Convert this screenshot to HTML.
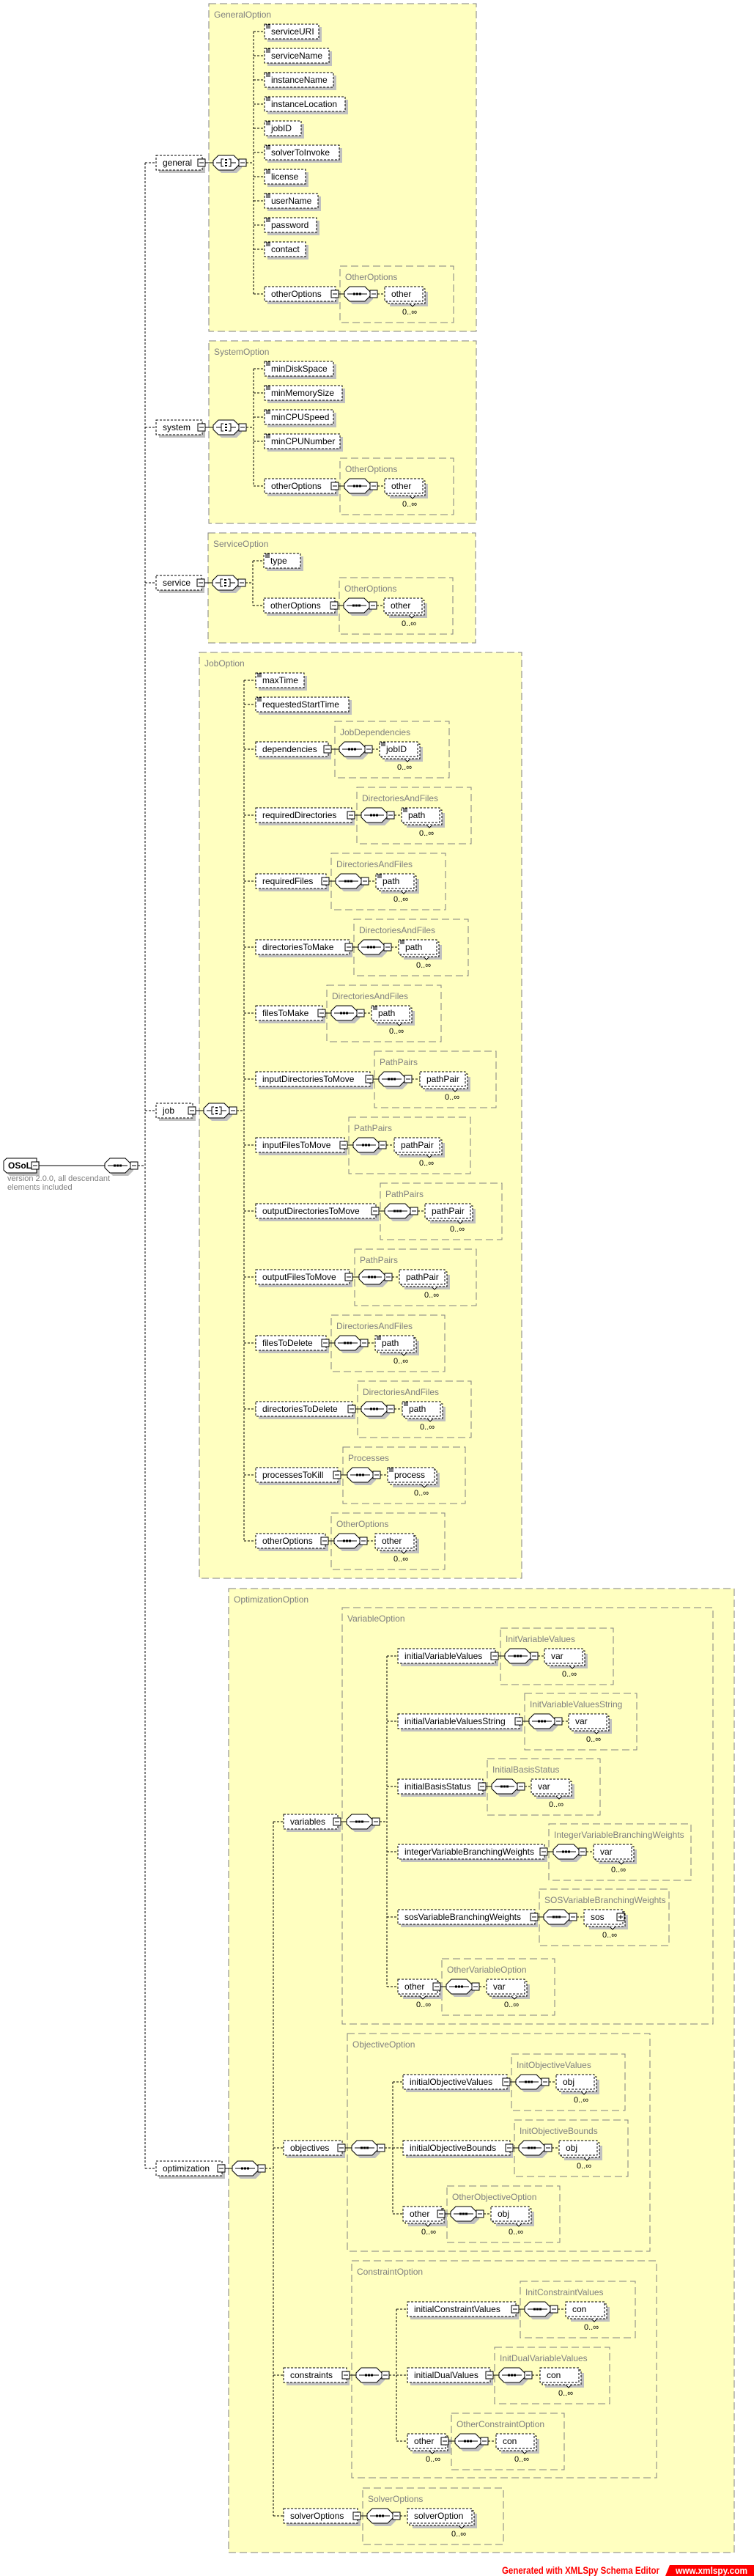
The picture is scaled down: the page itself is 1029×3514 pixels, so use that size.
<!DOCTYPE html>
<html><head><meta charset="utf-8"><style>
html,body{margin:0;padding:0;background:#fff}
svg{display:block}
text{font-family:"Liberation Sans",sans-serif;font-size:12px;fill:#000}
.gl{fill:#808080}
.cd{font-size:11px}
.el{fill:#fff;stroke:#000;stroke-dasharray:3 2}
.sh{fill:#c0c0c0}
.g{fill:none;stroke:#808080;stroke-dasharray:10 5}
.G{fill:#ffffc0;stroke:#808080;stroke-dasharray:10 5}
.dl{fill:none;stroke:#000;stroke-dasharray:3 2}
.ln{stroke:#000;fill:none}
.nt{fill:#fff;stroke:#000}
</style></head><body>
<svg width="1029" height="3514" viewBox="0 0 1029 3514" xmlns="http://www.w3.org/2000/svg">
<defs>
<g id="mb"><rect x="-5" y="-5" width="10" height="10" fill="#fff" stroke="#000"/><path d="M-3 0H3" stroke="#000"/></g>
<g id="pb"><rect x="-5" y="-5" width="10" height="10" fill="#fff" stroke="#000"/><path d="M-3 0H3M0 -3V3" stroke="#000"/></g>
<g id="oct"><polygon fill="#c0c0c0" points="11,-6 32,-6 39,1 39,7 32,14 11,14 4,7 4,1"/><polygon fill="#fff" stroke="#000" points="7,-10 28,-10 35,-3 35,3 28,10 7,10 0,3 0,-3"/></g>
<g id="seq"><use href="#oct"/><path d="M4 0H31" stroke="#000"/><rect x="12" y="-1.5" width="3" height="3"/><rect x="16" y="-1.5" width="3" height="3"/><rect x="20" y="-1.5" width="3" height="3"/><use href="#mb" x="40"/></g>
<g id="all"><use href="#oct"/><path d="M4 0H11M24 0H31M14 -5H11V5H14M21 -5H24V5H21" stroke="#000" fill="none"/><rect x="16" y="-5" width="3" height="2"/><rect x="16" y="-1" width="3" height="2"/><rect x="16" y="3" width="3" height="2"/><use href="#mb" x="40"/></g>
<g id="ic"><path d="M2 -9H8M2 -7H8M2 -5H8" stroke="#000"/></g>
</defs>

<rect class="G" x="285" y="5" width="365" height="447"/><text class="gl" x="292" y="24">GeneralOption</text>
<rect class="G" x="285" y="465" width="365" height="249"/><text class="gl" x="292" y="484">SystemOption</text>
<rect class="G" x="284" y="727" width="365" height="150"/><text class="gl" x="291" y="746">ServiceOption</text>
<rect class="G" x="272" y="890" width="440" height="1263"/><text class="gl" x="279" y="909">JobOption</text>
<rect class="G" x="312" y="2167" width="690" height="1315"/><text class="gl" x="319" y="2186">OptimizationOption</text>
<rect class="g" x="467" y="2193" width="506" height="568"/><text class="gl" x="474" y="2212">VariableOption</text>
<rect class="g" x="474" y="2774" width="413" height="297"/><text class="gl" x="481" y="2793">ObjectiveOption</text>
<rect class="g" x="480" y="3084" width="416" height="296"/><text class="gl" x="487" y="3103">ConstraintOption</text>

<path fill="#c0c0c0" d="M13 1584H54V1604H13L9 1600V1588Z"/>
<path fill="#fff" stroke="#000" d="M9 1580H50V1600H9L5 1596V1584Z"/>
<text x="11" y="1594" style="font-weight:bold">OSoL</text>
<use href="#mb" x="48" y="1590"/>
<path class="ln" d="M53 1590H143"/>
<use href="#seq" x="143" y="1590"/>
<path class="dl" d="M188 1590H198"/>
<text class="gl cd" x="10" y="1611">version 2.0.0, all descendant</text>
<text class="gl cd" x="10" y="1623">elements included</text>

<path class="dl" d="M198 222V2958M198 222H213M198 583H213M198 795H213M198 1515H213M198 2958H213"/>

<g transform="translate(0,222)"><rect class="sh" x="217" y="-6" width="63" height="20"/><rect class="el" x="213" y="-10" width="63" height="20"/><text x="222" y="4">general</text><use href="#mb" x="275"/><path class="ln" d="M280 0H291"/><use href="#all" x="291"/><path class="dl" d="M336 0H346"/></g>
<path class="dl" d="M346 43V401M346 43H361M346 76H361M346 109H361M346 142H361M346 175H361M346 208H361M346 241H361M346 274H361M346 307H361M346 340H361M346 401H361"/>
<g transform="translate(361,43)"><rect class="sh" x="4" y="-6" width="74" height="20"/><rect class="el" y="-10" width="74" height="20"/><use href="#ic"/><text x="9" y="4">serviceURI</text></g>
<g transform="translate(361,76)"><rect class="sh" x="4" y="-6" width="88" height="20"/><rect class="el" y="-10" width="88" height="20"/><use href="#ic"/><text x="9" y="4">serviceName</text></g>
<g transform="translate(361,109)"><rect class="sh" x="4" y="-6" width="94" height="20"/><rect class="el" y="-10" width="94" height="20"/><use href="#ic"/><text x="9" y="4">instanceName</text></g>
<g transform="translate(361,142)"><rect class="sh" x="4" y="-6" width="110" height="20"/><rect class="el" y="-10" width="110" height="20"/><use href="#ic"/><text x="9" y="4">instanceLocation</text></g>
<g transform="translate(361,175)"><rect class="sh" x="4" y="-6" width="50" height="20"/><rect class="el" y="-10" width="50" height="20"/><use href="#ic"/><text x="9" y="4">jobID</text></g>
<g transform="translate(361,208)"><rect class="sh" x="4" y="-6" width="102" height="20"/><rect class="el" y="-10" width="102" height="20"/><use href="#ic"/><text x="9" y="4">solverToInvoke</text></g>
<g transform="translate(361,241)"><rect class="sh" x="4" y="-6" width="56" height="20"/><rect class="el" y="-10" width="56" height="20"/><use href="#ic"/><text x="9" y="4">license</text></g>
<g transform="translate(361,274)"><rect class="sh" x="4" y="-6" width="73" height="20"/><rect class="el" y="-10" width="73" height="20"/><use href="#ic"/><text x="9" y="4">userName</text></g>
<g transform="translate(361,307)"><rect class="sh" x="4" y="-6" width="71" height="20"/><rect class="el" y="-10" width="71" height="20"/><use href="#ic"/><text x="9" y="4">password</text></g>
<g transform="translate(361,340)"><rect class="sh" x="4" y="-6" width="56" height="20"/><rect class="el" y="-10" width="56" height="20"/><use href="#ic"/><text x="9" y="4">contact</text></g>
<g transform="translate(0,401)"><rect class="g" x="464" y="-38" width="155" height="77"/><text class="gl" x="471" y="-19">OtherOptions</text><rect class="sh" x="365" y="-6" width="97" height="20"/><rect class="el" x="361" y="-10" width="97" height="20"/><text x="370" y="4">otherOptions</text><use href="#mb" x="457"/><path class="ln" d="M462 0H470"/><use href="#seq" x="470"/><path class="dl" d="M515 0H525"/><rect class="sh" x="532" y="-3" width="52" height="20"/><rect class="el" x="528" y="-7" width="52" height="20"/><rect class="el" x="525" y="-10" width="52" height="20"/><text x="534" y="4">other</text><path class="nt" d="M559 13l4 4 4-4"/><text class="cd" x="549" y="28">0..∞</text></g>

<g transform="translate(0,583)"><rect class="sh" x="217" y="-6" width="63" height="20"/><rect class="el" x="213" y="-10" width="63" height="20"/><text x="222" y="4">system</text><use href="#mb" x="275"/><path class="ln" d="M280 0H291"/><use href="#all" x="291"/><path class="dl" d="M336 0H346"/></g>
<path class="dl" d="M346 503V663M346 503H361M346 536H361M346 569H361M346 602H361M346 663H361"/>
<g transform="translate(361,503)"><rect class="sh" x="4" y="-6" width="94" height="20"/><rect class="el" y="-10" width="94" height="20"/><use href="#ic"/><text x="9" y="4">minDiskSpace</text></g>
<g transform="translate(361,536)"><rect class="sh" x="4" y="-6" width="106" height="20"/><rect class="el" y="-10" width="106" height="20"/><use href="#ic"/><text x="9" y="4">minMemorySize</text></g>
<g transform="translate(361,569)"><rect class="sh" x="4" y="-6" width="94" height="20"/><rect class="el" y="-10" width="94" height="20"/><use href="#ic"/><text x="9" y="4">minCPUSpeed</text></g>
<g transform="translate(361,602)"><rect class="sh" x="4" y="-6" width="103" height="20"/><rect class="el" y="-10" width="103" height="20"/><use href="#ic"/><text x="9" y="4">minCPUNumber</text></g>
<g transform="translate(0,663)"><rect class="g" x="464" y="-38" width="155" height="77"/><text class="gl" x="471" y="-19">OtherOptions</text><rect class="sh" x="365" y="-6" width="97" height="20"/><rect class="el" x="361" y="-10" width="97" height="20"/><text x="370" y="4">otherOptions</text><use href="#mb" x="457"/><path class="ln" d="M462 0H470"/><use href="#seq" x="470"/><path class="dl" d="M515 0H525"/><rect class="sh" x="532" y="-3" width="52" height="20"/><rect class="el" x="528" y="-7" width="52" height="20"/><rect class="el" x="525" y="-10" width="52" height="20"/><text x="534" y="4">other</text><path class="nt" d="M559 13l4 4 4-4"/><text class="cd" x="549" y="28">0..∞</text></g>

<g transform="translate(0,795)"><rect class="sh" x="217" y="-6" width="62" height="20"/><rect class="el" x="213" y="-10" width="62" height="20"/><text x="222" y="4">service</text><use href="#mb" x="274"/><path class="ln" d="M279 0H290"/><use href="#all" x="290"/><path class="dl" d="M335 0H345"/></g>
<path class="dl" d="M345 765V826M345 765H360M345 826H360"/>
<g transform="translate(360,765)"><rect class="sh" x="4" y="-6" width="50" height="20"/><rect class="el" y="-10" width="50" height="20"/><use href="#ic"/><text x="9" y="4">type</text></g>
<g transform="translate(0,826)"><rect class="g" x="463" y="-38" width="155" height="77"/><text class="gl" x="470" y="-19">OtherOptions</text><rect class="sh" x="364" y="-6" width="97" height="20"/><rect class="el" x="360" y="-10" width="97" height="20"/><text x="369" y="4">otherOptions</text><use href="#mb" x="456"/><path class="ln" d="M461 0H469"/><use href="#seq" x="469"/><path class="dl" d="M514 0H524"/><rect class="sh" x="531" y="-3" width="52" height="20"/><rect class="el" x="527" y="-7" width="52" height="20"/><rect class="el" x="524" y="-10" width="52" height="20"/><text x="533" y="4">other</text><path class="nt" d="M558 13l4 4 4-4"/><text class="cd" x="548" y="28">0..∞</text></g>

<g transform="translate(0,1515)"><rect class="sh" x="217" y="-6" width="50" height="20"/><rect class="el" x="213" y="-10" width="50" height="20"/><text x="222" y="4">job</text><use href="#mb" x="262"/><path class="ln" d="M267 0H278"/><use href="#all" x="278"/><path class="dl" d="M323 0H333"/></g>
<path class="dl" d="M333 928V2102M333 928H349M333 961H349M333 1022H349M333 1112H349M333 1202H349M333 1292H349M333 1382H349M333 1472H349M333 1562H349M333 1652H349M333 1742H349M333 1832H349M333 1922H349M333 2012H349M333 2102H349"/>
<g transform="translate(349,928)"><rect class="sh" x="4" y="-6" width="66" height="20"/><rect class="el" y="-10" width="66" height="20"/><use href="#ic"/><text x="9" y="4">maxTime</text></g>
<g transform="translate(349,961)"><rect class="sh" x="4" y="-6" width="127" height="20"/><rect class="el" y="-10" width="127" height="20"/><use href="#ic"/><text x="9" y="4">requestedStartTime</text></g>

<g transform="translate(0,1022)"><rect class="g" x="457" y="-38" width="156" height="77"/><text class="gl" x="464" y="-19">JobDependencies</text><rect class="sh" x="353" y="-6" width="99" height="20"/><rect class="el" x="349" y="-10" width="99" height="20"/><text x="358" y="4">dependencies</text><use href="#mb" x="447"/><path class="ln" d="M452 0H463"/><use href="#seq" x="463"/><path class="dl" d="M508 0H518"/><rect class="sh" x="525" y="-3" width="52" height="20"/><rect class="el" x="521" y="-7" width="52" height="20"/><rect class="el" x="518" y="-10" width="52" height="20"/><use href="#ic" x="518"/><text x="527" y="4">jobID</text><path class="nt" d="M552 13l4 4 4-4"/><text class="cd" x="542" y="28">0..∞</text></g>

<g transform="translate(0,1112)"><rect class="g" x="487" y="-38" width="156" height="77"/><text class="gl" x="494" y="-19">DirectoriesAndFiles</text><rect class="sh" x="353" y="-6" width="131" height="20"/><rect class="el" x="349" y="-10" width="131" height="20"/><text x="358" y="4">requiredDirectories</text><use href="#mb" x="479"/><path class="ln" d="M484 0H493"/><use href="#seq" x="493"/><path class="dl" d="M538 0H548"/><rect class="sh" x="555" y="-3" width="52" height="20"/><rect class="el" x="551" y="-7" width="52" height="20"/><rect class="el" x="548" y="-10" width="52" height="20"/><use href="#ic" x="548"/><text x="557" y="4">path</text><path class="nt" d="M582 13l4 4 4-4"/><text class="cd" x="572" y="28">0..∞</text></g>

<g transform="translate(0,1202)"><rect class="g" x="452" y="-38" width="156" height="77"/><text class="gl" x="459" y="-19">DirectoriesAndFiles</text><rect class="sh" x="353" y="-6" width="96" height="20"/><rect class="el" x="349" y="-10" width="96" height="20"/><text x="358" y="4">requiredFiles</text><use href="#mb" x="444"/><path class="ln" d="M449 0H458"/><use href="#seq" x="458"/><path class="dl" d="M503 0H513"/><rect class="sh" x="520" y="-3" width="52" height="20"/><rect class="el" x="516" y="-7" width="52" height="20"/><rect class="el" x="513" y="-10" width="52" height="20"/><use href="#ic" x="513"/><text x="522" y="4">path</text><path class="nt" d="M547 13l4 4 4-4"/><text class="cd" x="537" y="28">0..∞</text></g>

<g transform="translate(0,1292)"><rect class="g" x="483" y="-38" width="156" height="77"/><text class="gl" x="490" y="-19">DirectoriesAndFiles</text><rect class="sh" x="353" y="-6" width="128" height="20"/><rect class="el" x="349" y="-10" width="128" height="20"/><text x="358" y="4">directoriesToMake</text><use href="#mb" x="476"/><path class="ln" d="M481 0H489"/><use href="#seq" x="489"/><path class="dl" d="M534 0H544"/><rect class="sh" x="551" y="-3" width="52" height="20"/><rect class="el" x="547" y="-7" width="52" height="20"/><rect class="el" x="544" y="-10" width="52" height="20"/><use href="#ic" x="544"/><text x="553" y="4">path</text><path class="nt" d="M578 13l4 4 4-4"/><text class="cd" x="568" y="28">0..∞</text></g>

<g transform="translate(0,1382)"><rect class="g" x="446" y="-38" width="156" height="77"/><text class="gl" x="453" y="-19">DirectoriesAndFiles</text><rect class="sh" x="353" y="-6" width="91" height="20"/><rect class="el" x="349" y="-10" width="91" height="20"/><text x="358" y="4">filesToMake</text><use href="#mb" x="439"/><path class="ln" d="M444 0H452"/><use href="#seq" x="452"/><path class="dl" d="M497 0H507"/><rect class="sh" x="514" y="-3" width="52" height="20"/><rect class="el" x="510" y="-7" width="52" height="20"/><rect class="el" x="507" y="-10" width="52" height="20"/><use href="#ic" x="507"/><text x="516" y="4">path</text><path class="nt" d="M541 13l4 4 4-4"/><text class="cd" x="531" y="28">0..∞</text></g>

<g transform="translate(0,1472)"><rect class="g" x="511" y="-38" width="166" height="77"/><text class="gl" x="518" y="-19">PathPairs</text><rect class="sh" x="353" y="-6" width="156" height="20"/><rect class="el" x="349" y="-10" width="156" height="20"/><text x="358" y="4">inputDirectoriesToMove</text><use href="#mb" x="504"/><path class="ln" d="M509 0H517"/><use href="#seq" x="517"/><path class="dl" d="M562 0H573"/><rect class="sh" x="580" y="-3" width="62" height="20"/><rect class="el" x="576" y="-7" width="62" height="20"/><rect class="el" x="573" y="-10" width="62" height="20"/><text x="582" y="4">pathPair</text><path class="nt" d="M617 13l4 4 4-4"/><text class="cd" x="607" y="28">0..∞</text></g>

<g transform="translate(0,1562)"><rect class="g" x="476" y="-38" width="166" height="77"/><text class="gl" x="483" y="-19">PathPairs</text><rect class="sh" x="353" y="-6" width="121" height="20"/><rect class="el" x="349" y="-10" width="121" height="20"/><text x="358" y="4">inputFilesToMove</text><use href="#mb" x="469"/><path class="ln" d="M474 0H482"/><use href="#seq" x="482"/><path class="dl" d="M527 0H538"/><rect class="sh" x="545" y="-3" width="62" height="20"/><rect class="el" x="541" y="-7" width="62" height="20"/><rect class="el" x="538" y="-10" width="62" height="20"/><text x="547" y="4">pathPair</text><path class="nt" d="M582 13l4 4 4-4"/><text class="cd" x="572" y="28">0..∞</text></g>

<g transform="translate(0,1652)"><rect class="g" x="519" y="-38" width="166" height="77"/><text class="gl" x="526" y="-19">PathPairs</text><rect class="sh" x="353" y="-6" width="164" height="20"/><rect class="el" x="349" y="-10" width="164" height="20"/><text x="358" y="4">outputDirectoriesToMove</text><use href="#mb" x="512"/><path class="ln" d="M517 0H525"/><use href="#seq" x="525"/><path class="dl" d="M570 0H580"/><rect class="sh" x="587" y="-3" width="62" height="20"/><rect class="el" x="583" y="-7" width="62" height="20"/><rect class="el" x="580" y="-10" width="62" height="20"/><text x="589" y="4">pathPair</text><path class="nt" d="M624 13l4 4 4-4"/><text class="cd" x="614" y="28">0..∞</text></g>

<g transform="translate(0,1742)"><rect class="g" x="484" y="-38" width="166" height="77"/><text class="gl" x="491" y="-19">PathPairs</text><rect class="sh" x="353" y="-6" width="128" height="20"/><rect class="el" x="349" y="-10" width="128" height="20"/><text x="358" y="4">outputFilesToMove</text><use href="#mb" x="476"/><path class="ln" d="M481 0H490"/><use href="#seq" x="490"/><path class="dl" d="M535 0H545"/><rect class="sh" x="552" y="-3" width="62" height="20"/><rect class="el" x="548" y="-7" width="62" height="20"/><rect class="el" x="545" y="-10" width="62" height="20"/><text x="554" y="4">pathPair</text><path class="nt" d="M589 13l4 4 4-4"/><text class="cd" x="579" y="28">0..∞</text></g>

<g transform="translate(0,1832)"><rect class="g" x="452" y="-38" width="155" height="77"/><text class="gl" x="459" y="-19">DirectoriesAndFiles</text><rect class="sh" x="353" y="-6" width="96" height="20"/><rect class="el" x="349" y="-10" width="96" height="20"/><text x="358" y="4">filesToDelete</text><use href="#mb" x="444"/><path class="ln" d="M449 0H457"/><use href="#seq" x="457"/><path class="dl" d="M502 0H512"/><rect class="sh" x="519" y="-3" width="53" height="20"/><rect class="el" x="515" y="-7" width="53" height="20"/><rect class="el" x="512" y="-10" width="53" height="20"/><use href="#ic" x="512"/><text x="521" y="4">path</text><path class="nt" d="M547 13l4 4 4-4"/><text class="cd" x="537" y="28">0..∞</text></g>

<g transform="translate(0,1922)"><rect class="g" x="488" y="-38" width="155" height="77"/><text class="gl" x="495" y="-19">DirectoriesAndFiles</text><rect class="sh" x="353" y="-6" width="132" height="20"/><rect class="el" x="349" y="-10" width="132" height="20"/><text x="358" y="4">directoriesToDelete</text><use href="#mb" x="480"/><path class="ln" d="M485 0H493"/><use href="#seq" x="493"/><path class="dl" d="M538 0H549"/><rect class="sh" x="556" y="-3" width="52" height="20"/><rect class="el" x="552" y="-7" width="52" height="20"/><rect class="el" x="549" y="-10" width="52" height="20"/><use href="#ic" x="549"/><text x="558" y="4">path</text><path class="nt" d="M583 13l4 4 4-4"/><text class="cd" x="573" y="28">0..∞</text></g>

<g transform="translate(0,2012)"><rect class="g" x="468" y="-38" width="167" height="77"/><text class="gl" x="475" y="-19">Processes</text><rect class="sh" x="353" y="-6" width="112" height="20"/><rect class="el" x="349" y="-10" width="112" height="20"/><text x="358" y="4">processesToKill</text><use href="#mb" x="460"/><path class="ln" d="M465 0H474"/><use href="#seq" x="474"/><path class="dl" d="M519 0H529"/><rect class="sh" x="536" y="-3" width="64" height="20"/><rect class="el" x="532" y="-7" width="64" height="20"/><rect class="el" x="529" y="-10" width="64" height="20"/><use href="#ic" x="529"/><text x="538" y="4">process</text><path class="nt" d="M575 13l4 4 4-4"/><text class="cd" x="565" y="28">0..∞</text></g>

<g transform="translate(0,2102)"><rect class="g" x="452" y="-38" width="155" height="77"/><text class="gl" x="459" y="-19">OtherOptions</text><rect class="sh" x="353" y="-6" width="95" height="20"/><rect class="el" x="349" y="-10" width="95" height="20"/><text x="358" y="4">otherOptions</text><use href="#mb" x="443"/><path class="ln" d="M448 0H456"/><use href="#seq" x="456"/><path class="dl" d="M501 0H512"/><rect class="sh" x="519" y="-3" width="53" height="20"/><rect class="el" x="515" y="-7" width="53" height="20"/><rect class="el" x="512" y="-10" width="53" height="20"/><text x="521" y="4">other</text><path class="nt" d="M547 13l4 4 4-4"/><text class="cd" x="537" y="28">0..∞</text></g>

<g transform="translate(0,2958)"><rect class="sh" x="217" y="-6" width="90" height="20"/><rect class="el" x="213" y="-10" width="90" height="20"/><text x="222" y="4">optimization</text><use href="#mb" x="302"/><path class="ln" d="M307 0H317"/><use href="#seq" x="317"/><path class="dl" d="M362 0H373"/></g>
<path class="dl" d="M373 2485V3432M373 2485H387M373 2930H387M373 3240H387M373 3432H387"/>

<g transform="translate(0,2485)"><rect class="sh" x="391" y="-6" width="74" height="20"/><rect class="el" x="387" y="-10" width="74" height="20"/><text x="396" y="4">variables</text><use href="#mb" x="460"/><path class="ln" d="M465 0H473"/><use href="#seq" x="473"/><path class="dl" d="M518 0H528"/></g>
<path class="dl" d="M528 2259V2710M528 2259H543M528 2348H543M528 2437H543M528 2526H543M528 2615H543M528 2710H543"/>

<g transform="translate(0,2259)"><rect class="g" x="683" y="-38" width="154" height="77"/><text class="gl" x="690" y="-19">InitVariableValues</text><rect class="sh" x="547" y="-6" width="133" height="20"/><rect class="el" x="543" y="-10" width="133" height="20"/><text x="552" y="4">initialVariableValues</text><use href="#mb" x="675"/><path class="ln" d="M680 0H689"/><use href="#seq" x="689"/><path class="dl" d="M734 0H743"/><rect class="sh" x="750" y="-3" width="52" height="20"/><rect class="el" x="746" y="-7" width="52" height="20"/><rect class="el" x="743" y="-10" width="52" height="20"/><text x="752" y="4">var</text><path class="nt" d="M777 13l4 4 4-4"/><text class="cd" x="767" y="28">0..∞</text></g>

<g transform="translate(0,2348)"><rect class="g" x="716" y="-38" width="153" height="77"/><text class="gl" x="723" y="-19">InitVariableValuesString</text><rect class="sh" x="547" y="-6" width="166" height="20"/><rect class="el" x="543" y="-10" width="166" height="20"/><text x="552" y="4">initialVariableValuesString</text><use href="#mb" x="708"/><path class="ln" d="M713 0H722"/><use href="#seq" x="722"/><path class="dl" d="M767 0H776"/><rect class="sh" x="783" y="-3" width="52" height="20"/><rect class="el" x="779" y="-7" width="52" height="20"/><rect class="el" x="776" y="-10" width="52" height="20"/><text x="785" y="4">var</text><path class="nt" d="M810 13l4 4 4-4"/><text class="cd" x="800" y="28">0..∞</text></g>

<g transform="translate(0,2437)"><rect class="g" x="665" y="-38" width="154" height="77"/><text class="gl" x="672" y="-19">InitialBasisStatus</text><rect class="sh" x="547" y="-6" width="116" height="20"/><rect class="el" x="543" y="-10" width="116" height="20"/><text x="552" y="4">initialBasisStatus</text><use href="#mb" x="658"/><path class="ln" d="M663 0H671"/><use href="#seq" x="671"/><path class="dl" d="M716 0H725"/><rect class="sh" x="732" y="-3" width="52" height="20"/><rect class="el" x="728" y="-7" width="52" height="20"/><rect class="el" x="725" y="-10" width="52" height="20"/><text x="734" y="4">var</text><path class="nt" d="M759 13l4 4 4-4"/><text class="cd" x="749" y="28">0..∞</text></g>

<g transform="translate(0,2526)"><rect class="g" x="749" y="-38" width="194" height="77"/><text class="gl" x="756" y="-19">IntegerVariableBranchingWeights</text><rect class="sh" x="547" y="-6" width="200" height="20"/><rect class="el" x="543" y="-10" width="200" height="20"/><text x="552" y="4">integerVariableBranchingWeights</text><use href="#mb" x="742"/><path class="ln" d="M747 0H755"/><use href="#seq" x="755"/><path class="dl" d="M800 0H810"/><rect class="sh" x="817" y="-3" width="52" height="20"/><rect class="el" x="813" y="-7" width="52" height="20"/><rect class="el" x="810" y="-10" width="52" height="20"/><text x="819" y="4">var</text><path class="nt" d="M844 13l4 4 4-4"/><text class="cd" x="834" y="28">0..∞</text></g>

<g transform="translate(0,2615)"><rect class="g" x="736" y="-38" width="177" height="77"/><text class="gl" x="743" y="-19">SOSVariableBranchingWeights</text><rect class="sh" x="547" y="-6" width="187" height="20"/><rect class="el" x="543" y="-10" width="187" height="20"/><text x="552" y="4">sosVariableBranchingWeights</text><use href="#mb" x="729"/><path class="ln" d="M734 0H742"/><use href="#seq" x="742"/><path class="dl" d="M787 0H797"/><rect class="sh" x="804" y="-3" width="53" height="20"/><rect class="el" x="800" y="-7" width="53" height="20"/><rect class="el" x="797" y="-10" width="53" height="20"/><text x="806" y="4">sos</text><use href="#pb" x="847"/><path class="nt" d="M832 13l4 4 4-4"/><text class="cd" x="822" y="28">0..∞</text></g>

<g transform="translate(0,2710)"><rect class="g" x="603" y="-38" width="154" height="77"/><text class="gl" x="610" y="-19">OtherVariableOption</text><rect class="sh" x="550" y="-3" width="54" height="20"/><rect class="el" x="546" y="-7" width="54" height="20"/><rect class="el" x="543" y="-10" width="54" height="20"/><text x="552" y="4">other</text><use href="#mb" x="596"/><path class="nt" d="M573 13l4 4 4-4"/><text class="cd" x="568" y="28">0..∞</text><path class="ln" d="M601 0H609"/><use href="#seq" x="609"/><path class="dl" d="M654 0H664"/><rect class="sh" x="671" y="-3" width="52" height="20"/><rect class="el" x="667" y="-7" width="52" height="20"/><rect class="el" x="664" y="-10" width="52" height="20"/><text x="673" y="4">var</text><path class="nt" d="M698 13l4 4 4-4"/><text class="cd" x="688" y="28">0..∞</text></g>

<g transform="translate(0,2930)"><rect class="sh" x="391" y="-6" width="80" height="20"/><rect class="el" x="387" y="-10" width="80" height="20"/><text x="396" y="4">objectives</text><use href="#mb" x="466"/><path class="ln" d="M471 0H480"/><use href="#seq" x="480"/><path class="dl" d="M525 0H536"/></g>
<path class="dl" d="M536 2840V3020M536 2840H550M536 2930H550M536 3020H550"/>

<g transform="translate(0,2840)"><rect class="g" x="698" y="-38" width="155" height="77"/><text class="gl" x="705" y="-19">InitObjectiveValues</text><rect class="sh" x="554" y="-6" width="142" height="20"/><rect class="el" x="550" y="-10" width="142" height="20"/><text x="559" y="4">initialObjectiveValues</text><use href="#mb" x="691"/><path class="ln" d="M696 0H704"/><use href="#seq" x="704"/><path class="dl" d="M749 0H759"/><rect class="sh" x="766" y="-3" width="52" height="20"/><rect class="el" x="762" y="-7" width="52" height="20"/><rect class="el" x="759" y="-10" width="52" height="20"/><text x="768" y="4">obj</text><path class="nt" d="M793 13l4 4 4-4"/><text class="cd" x="783" y="28">0..∞</text></g>

<g transform="translate(0,2930)"><rect class="g" x="702" y="-38" width="155" height="77"/><text class="gl" x="709" y="-19">InitObjectiveBounds</text><rect class="sh" x="554" y="-6" width="146" height="20"/><rect class="el" x="550" y="-10" width="146" height="20"/><text x="559" y="4">initialObjectiveBounds</text><use href="#mb" x="695"/><path class="ln" d="M700 0H708"/><use href="#seq" x="708"/><path class="dl" d="M753 0H763"/><rect class="sh" x="770" y="-3" width="52" height="20"/><rect class="el" x="766" y="-7" width="52" height="20"/><rect class="el" x="763" y="-10" width="52" height="20"/><text x="772" y="4">obj</text><path class="nt" d="M797 13l4 4 4-4"/><text class="cd" x="787" y="28">0..∞</text></g>

<g transform="translate(0,3020)"><rect class="g" x="610" y="-38" width="154" height="77"/><text class="gl" x="617" y="-19">OtherObjectiveOption</text><rect class="sh" x="557" y="-3" width="53" height="20"/><rect class="el" x="553" y="-7" width="53" height="20"/><rect class="el" x="550" y="-10" width="53" height="20"/><text x="559" y="4">other</text><use href="#mb" x="602"/><path class="nt" d="M580 13l4 4 4-4"/><text class="cd" x="575" y="28">0..∞</text><path class="ln" d="M607 0H615"/><use href="#seq" x="615"/><path class="dl" d="M660 0H670"/><rect class="sh" x="677" y="-3" width="52" height="20"/><rect class="el" x="673" y="-7" width="52" height="20"/><rect class="el" x="670" y="-10" width="52" height="20"/><text x="679" y="4">obj</text><path class="nt" d="M704 13l4 4 4-4"/><text class="cd" x="694" y="28">0..∞</text></g>

<g transform="translate(0,3240)"><rect class="sh" x="391" y="-6" width="86" height="20"/><rect class="el" x="387" y="-10" width="86" height="20"/><text x="396" y="4">constraints</text><use href="#mb" x="472"/><path class="ln" d="M477 0H486"/><use href="#seq" x="486"/><path class="dl" d="M531 0H541"/></g>
<path class="dl" d="M541 3150V3330M541 3150H556M541 3240H556M541 3330H556"/>

<g transform="translate(0,3150)"><rect class="g" x="710" y="-38" width="157" height="77"/><text class="gl" x="717" y="-19">InitConstraintValues</text><rect class="sh" x="560" y="-6" width="148" height="20"/><rect class="el" x="556" y="-10" width="148" height="20"/><text x="565" y="4">initialConstraintValues</text><use href="#mb" x="703"/><path class="ln" d="M708 0H716"/><use href="#seq" x="716"/><path class="dl" d="M761 0H772"/><rect class="sh" x="779" y="-3" width="53" height="20"/><rect class="el" x="775" y="-7" width="53" height="20"/><rect class="el" x="772" y="-10" width="53" height="20"/><text x="781" y="4">con</text><path class="nt" d="M807 13l4 4 4-4"/><text class="cd" x="797" y="28">0..∞</text></g>

<g transform="translate(0,3240)"><rect class="g" x="675" y="-38" width="157" height="77"/><text class="gl" x="682" y="-19">InitDualVariableValues</text><rect class="sh" x="560" y="-6" width="113" height="20"/><rect class="el" x="556" y="-10" width="113" height="20"/><text x="565" y="4">initialDualValues</text><use href="#mb" x="668"/><path class="ln" d="M673 0H681"/><use href="#seq" x="681"/><path class="dl" d="M726 0H737"/><rect class="sh" x="744" y="-3" width="53" height="20"/><rect class="el" x="740" y="-7" width="53" height="20"/><rect class="el" x="737" y="-10" width="53" height="20"/><text x="746" y="4">con</text><path class="nt" d="M772 13l4 4 4-4"/><text class="cd" x="762" y="28">0..∞</text></g>

<g transform="translate(0,3330)"><rect class="g" x="616" y="-38" width="154" height="77"/><text class="gl" x="623" y="-19">OtherConstraintOption</text><rect class="sh" x="563" y="-3" width="52" height="20"/><rect class="el" x="559" y="-7" width="52" height="20"/><rect class="el" x="556" y="-10" width="52" height="20"/><text x="565" y="4">other</text><use href="#mb" x="607"/><path class="nt" d="M586 13l4 4 4-4"/><text class="cd" x="581" y="28">0..∞</text><path class="ln" d="M612 0H621"/><use href="#seq" x="621"/><path class="dl" d="M666 0H677"/><rect class="sh" x="684" y="-3" width="52" height="20"/><rect class="el" x="680" y="-7" width="52" height="20"/><rect class="el" x="677" y="-10" width="52" height="20"/><text x="686" y="4">con</text><path class="nt" d="M712 13l4 4 4-4"/><text class="cd" x="702" y="28">0..∞</text></g>

<g transform="translate(0,3432)"><rect class="g" x="495" y="-38" width="192" height="77"/><text class="gl" x="502" y="-19">SolverOptions</text><rect class="sh" x="391" y="-6" width="101" height="20"/><rect class="el" x="387" y="-10" width="101" height="20"/><text x="396" y="4">solverOptions</text><use href="#mb" x="487"/><path class="ln" d="M492 0H501"/><use href="#seq" x="501"/><path class="dl" d="M546 0H556"/><rect class="sh" x="563" y="-3" width="88" height="20"/><rect class="el" x="559" y="-7" width="88" height="20"/><rect class="el" x="556" y="-10" width="88" height="20"/><text x="565" y="4">solverOption</text><path class="nt" d="M626 13l4 4 4-4"/><text class="cd" x="616" y="28">0..∞</text></g>

<text x="685" y="3511" textLength="215" lengthAdjust="spacingAndGlyphs" style="font-weight:bold;font-size:14px;fill:#ff0000">Generated with XMLSpy Schema Editor</text>
<path d="M914 3499H1029V3514H908Z" fill="#ff0000"/>
<text x="922" y="3511" textLength="98" lengthAdjust="spacingAndGlyphs" style="font-weight:bold;font-size:13px;fill:#fff">www.xmlspy.com</text>
</svg>
</body></html>
